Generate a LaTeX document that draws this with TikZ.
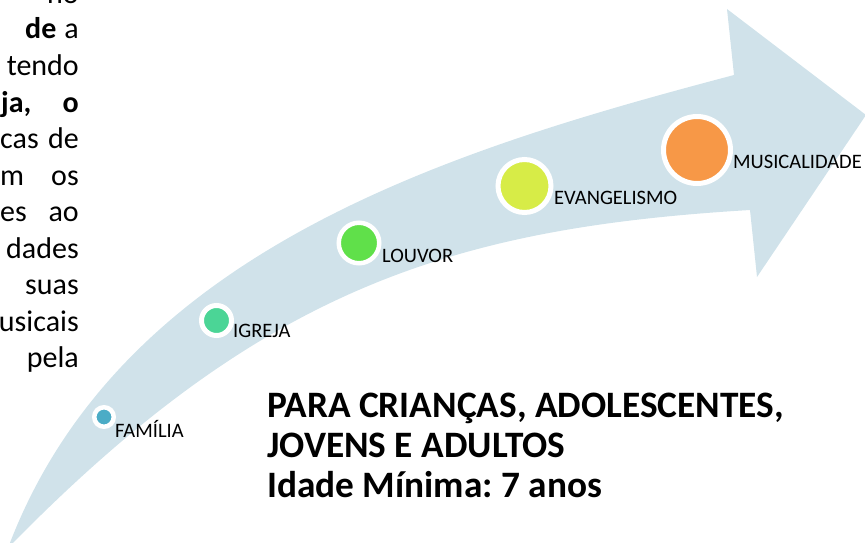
\documentclass[tikz,border=0pt]{standalone}
\usepackage{fontspec}
\setmainfont{Carlito}
\frenchspacing
\definecolor{bandcol}{RGB}{208,226,234}
\definecolor{famcol}{RGB}{75,172,198}
\definecolor{igrcol}{RGB}{75,213,150}
\definecolor{loucol}{RGB}{96,224,74}
\definecolor{evacol}{RGB}{215,236,71}
\definecolor{muscol}{RGB}{247,152,71}
\tikzset{
  dot/.style={circle, draw=white, inner sep=0pt},
  lbl/.style={anchor=base west, inner sep=0pt, text=black, font=\fontsize{20.5}{24}\selectfont},
  bigtxt/.style={anchor=base west, inner sep=0pt, text=black, font=\fontsize{37.3}{40}\selectfont\bfseries\frenchspacing},
  side/.style={inner sep=0pt, text=black, font=\fontsize{30}{36}\selectfont},
}
\begin{document}
\begin{tikzpicture}[x=1pt, y=-1pt]
\useasboundingbox (0,0) rectangle (865,543);
\clip (0,0) rectangle (865,543);
% big curved arrow
\fill[bandcol] (8,548) .. controls (120,250) and (450,150) .. (734,75)
  -- (727,9) -- (866,115) -- (757,277) -- (750,210)
  .. controls (450,228) and (260,290) .. (8,548) -- cycle;
% circles
\node[dot, fill=famcol, minimum size=19.5pt, line width=4.5pt] (fam) at (104,417) {};
\node[dot, fill=igrcol, minimum size=30pt, line width=5pt] (igr) at (216.5,320.5) {};
\node[dot, fill=loucol, minimum size=40.5pt, line width=4.5pt] (lou) at (359,243) {};
\node[dot, fill=evacol, minimum size=53pt, line width=5pt] (eva) at (524.5,186) {};
\node[dot, fill=muscol, minimum size=67pt, line width=5pt] (mus) at (697,150) {};
% labels
\node[lbl] (lfam) at (115,437) {FAMÍLIA};
\node[lbl] (ligr) at (233,337) {IGREJA};
\node[lbl] (llou) at (382,262) {LOUVOR};
\node[lbl] (leva) at (554,204) {EVANGELISMO};
\node[lbl] (lmus) at (733,168) {MUSICALIDADE};
% bold text
\node[bigtxt] (t1) at (267,417) {PARA CRIANÇAS, ADOLESCENTES,};
\node[bigtxt] (t2) at (267,457) {JOVENS E ADULTOS};
\node[bigtxt] (t3) at (267,497) {Idade Mínima: 7 anos};
% cut-off paragraph at the left
\node[side, anchor=base east] (s0) at (79,4) {no};
\node[side, anchor=base west] (s1a) at (25,39) {\bfseries de};
\node[side, anchor=base east] (s1b) at (79,39) {a};
\node[side, anchor=base east] (s2) at (79,75.5) {tendo};
\node[side, anchor=base west] (s3a) at (1,112) {\bfseries ja,};
\node[side, anchor=base east] (s3b) at (79,112) {\bfseries o};
\node[side, anchor=base west] (s4a) at (0,148.5) {cas};
\node[side, anchor=base east] (s4b) at (79,148.5) {de};
\node[side, anchor=base west] (s5a) at (0,185) {m};
\node[side, anchor=base east] (s5b) at (79,185) {os};
\node[side, anchor=base west] (s6a) at (0,221.5) {es};
\node[side, anchor=base east] (s6b) at (79,221.5) {ao};
\node[side, anchor=base east] (s7) at (79,258) {dades};
\node[side, anchor=base east] (s8) at (79,294.5) {suas};
\node[side, anchor=base east] (s9) at (79,331) {usicais};
\node[side, anchor=base east] (s10) at (79,367.5) {pela};
\end{tikzpicture}
\end{document}
